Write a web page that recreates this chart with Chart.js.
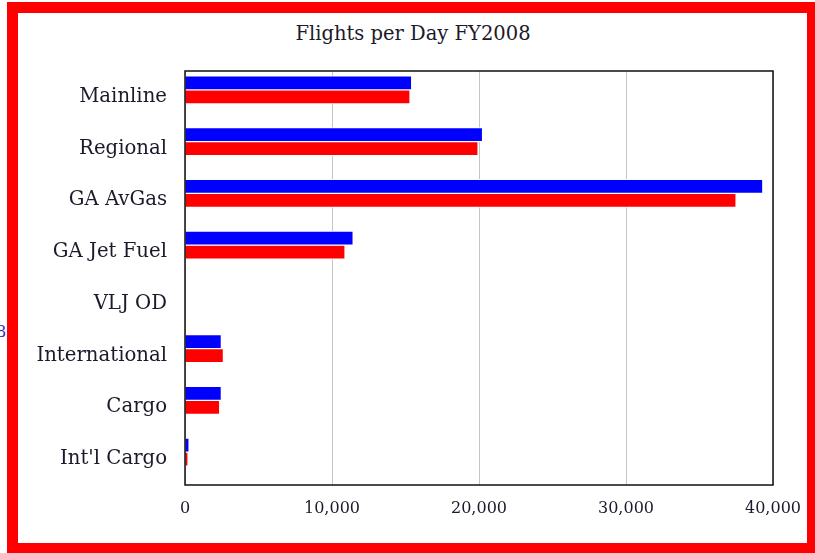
<!DOCTYPE html>
<html>
<head>
<meta charset="utf-8">
<script src="https://cdn.jsdelivr.net/npm/chart.js@4/dist/chart.umd.min.js"></script>
<style>
    html, body { margin: 0; padding: 0; background: #fff; overflow: hidden; }
    #frame {
        position: absolute; left: 7px; top: 2px;
        width: 789px; height: 530px;
        border: 11px solid #ff0000;
        background: #fff;
    }
    #wrap { position: absolute; left: 0; top: 0; width: 815px; height: 553px; }
    #title {
        position: absolute; left: 213px; top: 22px; width: 400px;
        text-align: center; color: #1a1a2a;
        font-family: "DejaVu Serif", serif; font-size: 19.5px;
    }
    .stray { position: absolute; font-family: "DejaVu Serif", serif; }
</style>
</head>
<body>
<div id="frame"></div>
<span class="stray" style="left:-4px; top:322px; color:#3030c0; font-size:16px;">8</span>
<span class="stray" style="left:748px; top:-15px; color:#888; font-size:15px;">Flows</span>
<div id="title">Flights per Day FY2008</div>
<div id="wrap"><canvas id="chart" width="815" height="553"></canvas></div>

<script>
// -------------------------
// Data
// -------------------------
const categories = [
    "Mainline",
    "Regional",
    "GA AvGas",
    "GA Jet Fuel",
    "VLJ OD",
    "International",
    "Cargo",
    "Int'l Cargo"
];

const blueValues = [15380, 20200, 39270, 11400, 0, 2430, 2430, 240];
const redValues  = [15270, 19900, 37450, 10850, 0, 2570, 2320, 170];
// empty slot under each pair (keeps the pair above the label line)
const spacerValues = [0, 0, 0, 0, 0, 0, 0, 0];

const xTicks = [0, 10000, 20000, 30000, 40000];

const FONT = "'DejaVu Serif', serif";

// box around plot area
const plotBox = {
    id: "plotBox",
    afterDraw(chart) {
        const a = chart.chartArea;
        const ctx = chart.ctx;
        ctx.save();
        ctx.strokeStyle = "#111";
        ctx.lineWidth = 1.5;
        ctx.strokeRect(a.left, a.top, a.right - a.left, a.bottom - a.top);
        ctx.restore();
    }
};

const barStyle = {
    borderColor: "#ffffff",
    borderWidth: { top: 1, bottom: 1, left: 0, right: 0 },
    borderSkipped: false,
    barThickness: 14
};

new Chart(document.getElementById("chart"), {
    type: "bar",
    data: {
        labels: categories,
        datasets: [
            Object.assign({ label: "Blue", data: blueValues, backgroundColor: "#0000ff" }, barStyle),
            Object.assign({ label: "Red", data: redValues, backgroundColor: "#ff0000" }, barStyle),
            Object.assign({ label: "", data: spacerValues, backgroundColor: "rgba(0,0,0,0)" }, barStyle, { borderWidth: 0 })
        ]
    },
    options: {
        indexAxis: "y",
        responsive: false,
        animation: false,
        layout: { padding: { left: 0, right: 42, top: 71, bottom: 0 } },
        plugins: {
            legend: { display: false },
            tooltip: { enabled: false },
            title: { display: false }
        },
        scales: {
            x: {
                min: 0,
                max: 40000,
                afterBuildTicks: (scale) => {
                    scale.ticks = xTicks.map(v => ({ value: v }));
                },
                afterFit: (scale) => { scale.height = 68; },
                grid: { color: "#c4c4c4", lineWidth: 1, drawTicks: false },
                border: { display: false },
                ticks: {
                    color: "#1a1a2a",
                    padding: 14,
                    maxRotation: 0,
                    font: { family: FONT, size: 16 },
                    callback: (v) => Number(v).toLocaleString("en-US")
                }
            },
            y: {
                afterFit: (scale) => { scale.width = 185; },
                grid: { display: false, drawTicks: false },
                border: { display: false },
                ticks: {
                    color: "#1a1a2a",
                    padding: 18,
                    font: { family: FONT, size: 19.7 }
                }
            }
        }
    },
    plugins: [plotBox]
});
</script>
</body>
</html>
